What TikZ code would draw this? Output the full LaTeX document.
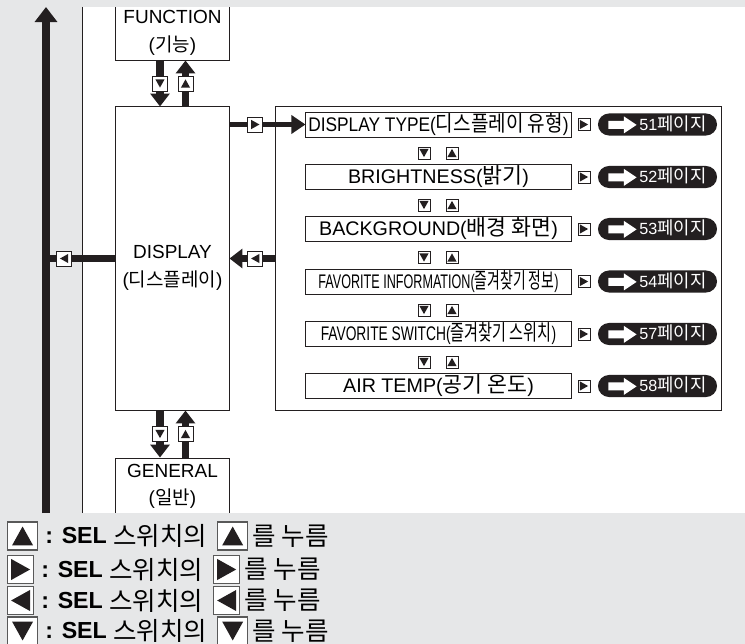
\documentclass[tikz,border=0pt]{standalone}
\usepackage{fontspec}
\usepackage{graphicx}
\setmainfont{Liberation Sans}
\newfontfamily\kr{Noto Sans CJK KR}
\newfontfamily\krb[Scale=1.1]{Noto Sans CJK KR}
\usepackage{tikz}
\usetikzlibrary{positioning,arrows.meta,calc}
\usepackage{xcolor}
\definecolor{bggray}{HTML}{E6E7E8}
\definecolor{inkblack}{HTML}{231F20}

% SEL switch key glyphs
\newcommand{\keyup}[1]{\tikz[x=#1,y=#1]\fill[inkblack,draw=none,sharp corners] (0,0) -- (1,0) -- (0.5,0.9) -- cycle;}
\newcommand{\keydown}[1]{\tikz[x=#1,y=#1]\fill[inkblack,draw=none,sharp corners] (0,0.9) -- (1,0.9) -- (0.5,0) -- cycle;}
\newcommand{\keyright}[1]{\tikz[x=#1,y=#1]\fill[inkblack,draw=none,sharp corners] (0,0) -- (0,1) -- (0.9,0.5) -- cycle;}
\newcommand{\keyleft}[1]{\tikz[x=#1,y=#1]\fill[inkblack,draw=none,sharp corners] (0.9,0) -- (0.9,1) -- (0,0.5) -- cycle;}
% white page arrow inside the reference pills
\newcommand{\pagearrow}{\tikz[x=1pt,y=1pt,baseline=-3.9pt]\fill[white,draw=none,sharp corners] (0,-2.8) -- (11,-2.8) -- (11,-6) -- (20,0) -- (11,6) -- (11,2.8) -- (0,2.8) -- cycle;}

\begin{document}
\begin{tikzpicture}[
    x=0.025cm, y=-0.025cm,
    every node/.style={inner sep=0pt},
    bigbox/.style={draw=inkblack, line width=0.7pt, fill=white, minimum width=2.825cm, align=center, font=\fontsize{13.5}{19.6}\selectfont},
    rowbox/.style={draw=inkblack, line width=0.7pt, fill=white, minimum width=6.625cm, minimum height=0.625cm, font=\fontsize{14}{16}\selectfont},
    keybox/.style={draw=inkblack, line width=0.6pt, fill=white, minimum size=0.375cm},
    minikey/.style={draw=inkblack, line width=0.5pt, fill=white, minimum size=0.3cm},
    pill/.style={fill=inkblack, text=white, minimum width=2.975cm, minimum height=0.55cm, rounded corners=0.275cm, font=\fontsize{11.5}{13}\selectfont},
    legkey/.style={draw=gray!70!black, line width=0.8pt, fill=white, minimum width=0.75cm, minimum height=0.7cm, anchor=west},
    legtext/.style={font=\fontsize{16.5}{18}\selectfont, anchor=west},
    legkr/.style={font=\krb\fontsize{16.5}{18}\selectfont, anchor=west},
    fat/.style={draw=inkblack, line width=5pt},
    fatarrow/.style={fat, -{Triangle[length=9.2pt, width=13.5pt]}}
]
    \useasboundingbox (0,0) rectangle (745,644);

    % Background and white working area
    \fill[bggray] (0,0) rectangle (745,644);
    \fill[white] (82,7) rectangle (745,513);

    % Sub menu panel of DISPLAY
    \node[draw=inkblack, line width=0.7pt, minimum width=11.125cm, minimum height=7.575cm] (panel) at (498.5,258.5) {};

    % DISPLAY TYPE row
    \node[rowbox] (dtype) at (438.5,124.5) {\scalebox{0.88}[1]{DISPLAY TYPE({\krb 디스플레이 유형})}};
    \node[minikey] (dtypekey) at (584,124.5) {\keyright{6.5pt}};
    \node[pill] (dtypepage) at (657.5,124.5) {\pagearrow\hspace{2pt}51{\krb 페이지}};
    \node[minikey] (dtypedn) at (424,153) {\keydown{6.5pt}};
    \node[minikey] (dtypeup) at (452,153) {\keyup{6.5pt}};

    % BRIGHTNESS row
    \node[rowbox] (bright) at (438.5,177) {BRIGHTNESS({\krb 밝기})};
    \node[minikey] (brightkey) at (584,177) {\keyright{6.5pt}};
    \node[pill] (brightpage) at (657.5,177) {\pagearrow\hspace{2pt}52{\krb 페이지}};
    \node[minikey] (brightdn) at (424,205) {\keydown{6.5pt}};
    \node[minikey] (brightup) at (452,205) {\keyup{6.5pt}};

    % BACKGROUND row
    \node[rowbox] (backgr) at (438.5,229) {BACKGROUND({\krb 배경 화면})};
    \node[minikey] (backgrkey) at (584,229) {\keyright{6.5pt}};
    \node[pill] (backgrpage) at (657.5,229) {\pagearrow\hspace{2pt}53{\krb 페이지}};
    \node[minikey] (backgrdn) at (424,257.5) {\keydown{6.5pt}};
    \node[minikey] (backgrup) at (452,257.5) {\keyup{6.5pt}};

    % FAVORITE INFORMATION row
    \node[rowbox] (favinfo) at (438.5,281.5) {\scalebox{0.64}[1]{FAVORITE INFORMATION({\krb 즐겨찾기 정보})}};
    \node[minikey] (favinfokey) at (584,281.5) {\keyright{6.5pt}};
    \node[pill] (favinfopage) at (657.5,281.5) {\pagearrow\hspace{2pt}54{\krb 페이지}};
    \node[minikey] (favinfodn) at (424,310) {\keydown{6.5pt}};
    \node[minikey] (favinfoup) at (452,310) {\keyup{6.5pt}};

    % FAVORITE SWITCH row
    \node[rowbox] (favsw) at (438.5,334) {\scalebox{0.7}[1]{FAVORITE SWITCH({\krb 즐겨찾기 스위치})}};
    \node[minikey] (favswkey) at (584,334) {\keyright{6.5pt}};
    \node[pill] (favswpage) at (657.5,334) {\pagearrow\hspace{2pt}57{\krb 페이지}};
    \node[minikey] (favswdn) at (424,362) {\keydown{6.5pt}};
    \node[minikey] (favswup) at (452,362) {\keyup{6.5pt}};

    % AIR TEMP row
    \node[rowbox] (airtemp) at (438.5,386) {AIR TEMP({\krb 공기 온도})};
    \node[minikey] (airtempkey) at (584,386) {\keyright{6.5pt}};
    \node[pill] (airtemppage) at (657.5,386) {\pagearrow\hspace{2pt}58{\krb 페이지}};

    % Main menu boxes
    \node[bigbox, minimum height=1.35cm] (function) at (172.5,33) {FUNCTION\\({\kr 기능})};
    \node[bigbox, minimum height=7.575cm, label={[align=center, font=\fontsize{13.5}{19.6}\selectfont, yshift=-0.24cm]center:DISPLAY\\({\kr 디스플레이})}] (display) at (172.5,258.5) {};
    \node[bigbox, minimum height=1.425cm] (general) at (172.5,486.5) {GENERAL\\({\kr 일반})};

    % FUNCTION <-> DISPLAY
    \draw[fatarrow] ($(function.south)+(-12.5,0)$) -- node[keybox] {\keydown{6.5pt}} ($(display.north)+(-12.5,0)$);
    \draw[fatarrow] ($(display.north)+(13,0)$) -- node[keybox] {\keyup{6.5pt}} ($(function.south)+(13,0)$);

    % DISPLAY <-> GENERAL
    \draw[fatarrow] ($(display.south)+(-12.5,0)$) -- node[keybox] {\keydown{6.5pt}} ($(general.north)+(-12.5,0)$);
    \draw[fatarrow] ($(general.north)+(13,0)$) -- node[keybox] {\keyup{6.5pt}} ($(display.south)+(13,0)$);

    % DISPLAY <-> sub menu
    \draw[fatarrow, line width=4pt, -{Triangle[length=10pt, width=12.8pt]}] (display.east |- dtype.west) -- node[keybox, pos=0.34] {\keyright{6.5pt}} (dtype.west);
    \draw[fatarrow, line width=4.3pt] (panel.west) -- node[keybox, pos=0.44] {\keyleft{6.5pt}} (display.east);

    % Cover the cut box edges
    \fill[bggray] (0,0) rectangle (745,7);
    \fill[bggray] (0,513) rectangle (745,644);
    \draw[inkblack, line width=0.7pt] (82,7) -- (82,513);

    % Return spine on the left
    \coordinate (spinebot) at (46,513);
    \coordinate (spinetop) at (46,7);
    \draw[draw=inkblack, line width=5.7pt, -{Triangle[length=10.7pt, width=15.6pt]}] (spinebot) -- (spinetop);
    \draw[fat, line width=4.3pt] (display.west) -- node[keybox, pos=0.74] {\keyleft{6.5pt}} (display.west -| spinetop);

    % Legend
    \node[legkey] (lgup) at (7,536) {\keyup{15pt}};
    \node[legtext, right=5pt of lgup] (lguptext) {\textbf{: SEL}};
    \node[legkr, right=4pt of lguptext] (lgupkr) {스위치의};
    \node[legkey, right=7pt of lgupkr] (lgupkey) {\keyup{15pt}};
    \node[legkr, right=3pt of lgupkey] (lgupend) {를 누름};

    \node[legkey, minimum width=0.65cm] (lgright) at (7,569.5) {\keyright{15pt}};
    \node[legtext, right=5pt of lgright] (lgrighttext) {\textbf{: SEL}};
    \node[legkr, right=4pt of lgrighttext] (lgrightkr) {스위치의};
    \node[legkey, minimum width=0.65cm, right=7pt of lgrightkr] (lgrightkey) {\keyright{15pt}};
    \node[legkr, right=3pt of lgrightkey] (lgrightend) {를 누름};

    \node[legkey, minimum width=0.65cm] (lgleft) at (7,600.5) {\keyleft{15pt}};
    \node[legtext, right=5pt of lgleft] (lglefttext) {\textbf{: SEL}};
    \node[legkr, right=4pt of lglefttext] (lgleftkr) {스위치의};
    \node[legkey, minimum width=0.65cm, right=7pt of lgleftkr] (lgleftkey) {\keyleft{15pt}};
    \node[legkr, right=3pt of lgleftkey] (lgleftend) {를 누름};

    \node[legkey] (lgdown) at (7,631) {\keydown{15pt}};
    \node[legtext, right=5pt of lgdown] (lgdowntext) {\textbf{: SEL}};
    \node[legkr, right=4pt of lgdowntext] (lgdownkr) {스위치의};
    \node[legkey, right=7pt of lgdownkr] (lgdownkey) {\keydown{15pt}};
    \node[legkr, right=3pt of lgdownkey] (lgdownend) {를 누름};

\end{tikzpicture}
\end{document}
